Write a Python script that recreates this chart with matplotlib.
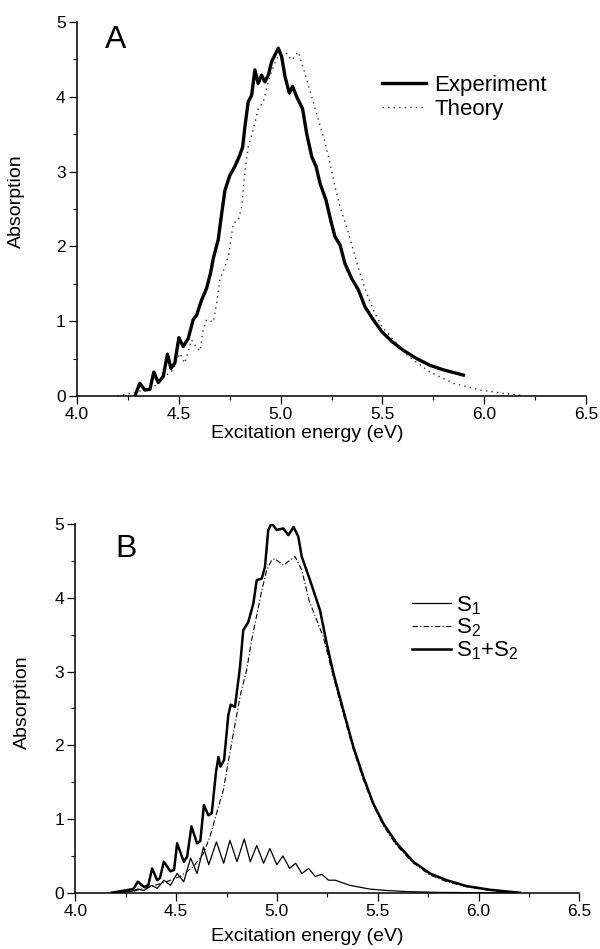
import matplotlib
matplotlib.use("Agg")
import matplotlib.pyplot as plt
from matplotlib.ticker import MultipleLocator

plt.rcParams["font.family"] = ["Liberation Sans", "DejaVu Sans"]
plt.rcParams["mathtext.fontset"] = "custom"
plt.rcParams["mathtext.rm"] = "Liberation Sans"

# Panel A: experiment vs theory
exp_x = [4.285, 4.309, 4.334, 4.359, 4.378, 4.400, 4.424, 4.445, 4.462, 4.481,
         4.501, 4.522, 4.547, 4.571, 4.588, 4.612, 4.637, 4.656, 4.670, 4.694,
         4.711, 4.727, 4.751, 4.776, 4.800, 4.814, 4.825, 4.841, 4.858, 4.874,
         4.890, 4.907, 4.923, 4.940, 4.956, 4.989, 5.005, 5.022, 5.043, 5.059,
         5.079, 5.108, 5.128, 5.153, 5.174, 5.194, 5.223, 5.246, 5.267, 5.292,
         5.316, 5.349, 5.382, 5.415, 5.455, 5.497, 5.546, 5.603, 5.668, 5.734,
         5.799, 5.897]
exp_y = [0.00, 0.17, 0.08, 0.09, 0.32, 0.18, 0.26, 0.56, 0.37, 0.44,
         0.78, 0.66, 0.77, 1.02, 1.08, 1.28, 1.44, 1.64, 1.84, 2.09,
         2.44, 2.75, 2.95, 3.07, 3.22, 3.33, 3.60, 3.93, 4.02, 4.36,
         4.18, 4.29, 4.20, 4.29, 4.47, 4.65, 4.54, 4.27, 4.05, 4.14,
         4.00, 3.84, 3.51, 3.20, 3.07, 2.84, 2.62, 2.35, 2.13, 2.02,
         1.77, 1.57, 1.42, 1.19, 1.02, 0.86, 0.73, 0.61, 0.50, 0.41,
         0.35, 0.28]

th_x = [4.200, 4.277, 4.326, 4.375, 4.408, 4.440, 4.473, 4.506, 4.530, 4.563,
        4.580, 4.604, 4.620, 4.637, 4.670, 4.686, 4.702, 4.727, 4.745, 4.768,
        4.792, 4.809, 4.825, 4.841, 4.866, 4.890, 4.915, 4.934, 4.956, 4.980,
        5.005, 5.030, 5.054, 5.087, 5.120, 5.153, 5.186, 5.219, 5.243, 5.267,
        5.292, 5.324, 5.357, 5.390, 5.423, 5.455, 5.497, 5.554, 5.627, 5.734,
        5.848, 5.980, 6.110, 6.180]
th_y = [0.00, 0.04, 0.08, 0.11, 0.21, 0.28, 0.35, 0.57, 0.44, 0.75,
        0.68, 0.60, 0.88, 1.02, 0.99, 1.24, 1.55, 1.73, 1.88, 2.31,
        2.35, 2.53, 3.00, 3.33, 3.56, 3.84, 3.93, 4.14, 4.34, 4.51,
        4.58, 4.58, 4.49, 4.60, 4.31, 4.00, 3.69, 3.38, 3.11, 2.80,
        2.53, 2.26, 1.95, 1.64, 1.37, 1.15, 0.93, 0.75, 0.53, 0.32,
        0.17, 0.08, 0.03, 0.01]

# Panel B: S1, S2 and their sum
s1_x = [4.180, 4.280, 4.310, 4.340, 4.378, 4.406, 4.440, 4.472, 4.505, 4.538,
        4.572, 4.604, 4.636, 4.662, 4.700, 4.736, 4.767, 4.802, 4.838, 4.868,
        4.900, 4.934, 4.965, 5.000, 5.030, 5.063, 5.093, 5.124, 5.157, 5.190,
        5.223, 5.256, 5.290, 5.330, 5.363, 5.460, 5.545, 5.650, 5.800, 6.000,
        6.200]
s1_y = [0.00, 0.02, 0.05, 0.03, 0.10, 0.06, 0.17, 0.10, 0.26, 0.15,
        0.47, 0.26, 0.62, 0.38, 0.69, 0.40, 0.71, 0.42, 0.73, 0.42,
        0.64, 0.40, 0.60, 0.38, 0.50, 0.33, 0.40, 0.26, 0.33, 0.22,
        0.25, 0.17, 0.17, 0.13, 0.10, 0.05, 0.03, 0.015, 0.005, 0.00,
        0.00]

s2_x = [4.180, 4.288, 4.370, 4.453, 4.519, 4.585, 4.635, 4.668, 4.701, 4.734,
        4.767, 4.790, 4.820, 4.850, 4.875, 4.925, 4.950, 4.974, 4.990, 5.032,
        5.060, 5.090, 5.123, 5.160, 5.230, 5.280, 5.329, 5.379, 5.429, 5.478,
        5.528, 5.594, 5.677, 5.760, 5.842, 5.941, 6.057, 6.206]
s2_y = [0.00, 0.02, 0.08, 0.15, 0.22, 0.35, 0.53, 0.76, 1.08, 1.39,
        1.90, 2.25, 2.70, 3.02, 3.43, 4.10, 4.38, 4.51, 4.53, 4.44,
        4.50, 4.56, 4.38, 3.96, 3.47, 2.93, 2.43, 1.94, 1.53, 1.19,
        0.91, 0.64, 0.40, 0.24, 0.15, 0.08, 0.03, 0.00]

sum_x = [4.180, 4.288, 4.310, 4.340, 4.362, 4.381, 4.406, 4.420, 4.439, 4.472,
         4.490, 4.505, 4.538, 4.555, 4.576, 4.604, 4.620, 4.638, 4.660, 4.677,
         4.698, 4.710, 4.720, 4.738, 4.759, 4.771, 4.792, 4.817, 4.833, 4.858,
         4.883, 4.900, 4.925, 4.941, 4.957, 4.974, 4.999, 5.032, 5.057, 5.083,
         5.106, 5.123, 5.164, 5.214, 5.247, 5.280, 5.329, 5.379, 5.429, 5.478,
         5.528, 5.594, 5.677, 5.760, 5.842, 5.941, 6.057, 6.206]
sum_y = [0.00, 0.05, 0.15, 0.08, 0.10, 0.33, 0.17, 0.20, 0.42, 0.29,
         0.31, 0.67, 0.42, 0.49, 0.90, 0.67, 0.70, 1.19, 1.05, 1.08,
         1.64, 1.84, 1.71, 1.80, 2.41, 2.55, 2.52, 3.06, 3.56, 3.67,
         3.92, 4.24, 4.26, 4.42, 4.92, 5.01, 4.92, 4.94, 4.85, 4.96,
         4.83, 4.56, 4.24, 3.83, 3.38, 2.98, 2.48, 1.98, 1.57, 1.21,
         0.94, 0.67, 0.42, 0.26, 0.17, 0.09, 0.04, 0.00]


def style_axes(ax):
    ax.set_xlim(4.0, 6.5)
    ax.set_ylim(0, 5)
    ax.xaxis.set_major_locator(MultipleLocator(0.5))
    ax.xaxis.set_minor_locator(MultipleLocator(0.25))
    ax.yaxis.set_major_locator(MultipleLocator(1))
    ax.yaxis.set_minor_locator(MultipleLocator(0.5))
    ax.xaxis.set_major_formatter(matplotlib.ticker.FormatStrFormatter("%.1f"))
    for side in ("top", "right"):
        ax.spines[side].set_visible(False)
    for side in ("left", "bottom"):
        ax.spines[side].set_linewidth(1.1)
    ax.tick_params(which="major", direction="out", length=5.5, width=0.9,
                   labelsize=12.5, pad=2.5)
    ax.tick_params(which="minor", direction="out", length=3, width=0.8)
    ax.set_xlabel("Excitation energy (eV)", fontsize=14)
    ax.set_ylabel("Absorption", fontsize=14)


fig = plt.figure(figsize=(6.0, 9.49), dpi=100)
ax_a = fig.add_axes([0.128, 0.5827, 0.849, 0.3941])
ax_b = fig.add_axes([0.1255, 0.0593, 0.840, 0.3885])

# A
ax_a.plot(exp_x, exp_y, color="black", lw=2.4, label="Experiment")
ax_a.plot(th_x, th_y, color="#333333", lw=1.0, ls=(0, (1, 3)), label="Theory")
style_axes(ax_a)
ax_a.xaxis.set_label_coords(0.452, -0.078)
ax_a.yaxis.set_label_coords(-0.102, 0.52)
ax_a.text(0.055, 0.93, "A", transform=ax_a.transAxes, fontsize=23,
          ha="left", va="baseline")
ax_a.legend(loc="upper left", bbox_to_anchor=(0.599, 0.859), frameon=False,
            fontsize=16, handlelength=2.0, handletextpad=0.35,
            labelspacing=0.14, borderpad=0, borderaxespad=0)

# B
ax_b.plot(s1_x, s1_y, color="black", lw=0.9, label=r"$\mathregular{S_1}$")
ax_b.plot(s2_x, s2_y, color="black", lw=0.8, ls=(0, (5, 2, 1, 2)),
          label=r"$\mathregular{S_2}$")
ax_b.plot(sum_x, sum_y, color="black", lw=1.8,
          label=r"$\mathregular{S_1}$+$\mathregular{S_2}$")
style_axes(ax_b)
ax_b.xaxis.set_label_coords(0.46, -0.096)
ax_b.yaxis.set_label_coords(-0.088, 0.518)
ax_b.text(0.079, 0.91, "B", transform=ax_b.transAxes, fontsize=23,
          ha="left", va="baseline")
ax_b.legend(loc="upper left", bbox_to_anchor=(0.668, 0.81), frameon=False,
            fontsize=16, handlelength=1.75, handletextpad=0.25,
            labelspacing=0.0, borderpad=0, borderaxespad=0)

fig.savefig("out.png", dpi=100)
